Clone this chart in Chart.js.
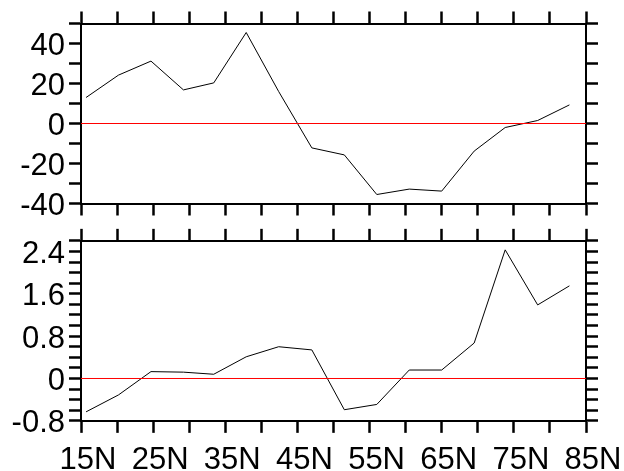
<!DOCTYPE html>
<html>
<head>
  <style>
    body { margin: 0; background: #fff; overflow: hidden; }
    .panel { position: absolute; left: 0; width: 624px; }
  </style>
  <script src="https://cdn.jsdelivr.net/npm/chart.js"></script>
</head>
<body>
  <div class="panel" style="top:-10px;height:247px"><canvas id="topChart" width="624" height="247"></canvas></div>
  <div class="panel" style="top:206px;height:265px"><canvas id="bottomChart" width="624" height="265"></canvas></div>

  <script>
    // latitude of each sample (degrees north)
    const lat = [15.7, 20.2, 24.7, 29.2, 33.4, 37.9, 42.4, 47.0, 51.5, 56.0, 60.5, 65.0, 69.5, 73.8, 78.3, 82.7];
    const topValues = [13, 24.2, 31.2, 16.8, 20.3, 45.5, 16, -12.2, -15.7, -35.5, -32.8, -33.8, -13.8, -2, 1.5, 9.3];
    const bottomValues = [-0.63, -0.31, 0.13, 0.12, 0.08, 0.41, 0.60, 0.54, -0.59, -0.49, 0.16, 0.16, 0.67, 2.43, 1.39, 1.75];

    const xTicks = [15, 20, 25, 30, 35, 40, 45, 50, 55, 60, 65, 70, 75, 80, 85];
    const xTickLabels = ['15N', '', '25N', '', '35N', '', '45N', '', '55N', '', '65N', '', '75N', '', '85N'];

    const topYTicks = [-40, -30, -20, -10, 0, 10, 20, 30, 40, 50];
    const topYLabels = ['-40', '', '-20', '', '0', '', '20', '', '40', ''];
    const bottomYTicks = [-0.8, -0.6, -0.4, -0.2, 0, 0.2, 0.4, 0.6, 0.8, 1.0, 1.2, 1.4, 1.6, 1.8, 2.0, 2.2, 2.4, 2.6];
    const bottomYLabels = ['-0.8', '', '', '', '0', '', '', '', '0.8', '', '', '', '1.6', '', '', '', '2.4', ''];

    // red reference line at zero
    const zeroX = [15, 85];
    const zeroY = [0, 0];

    const font = { family: 'Liberation Sans', size: 31 };

    function ticksFrom(list) {
      return function (scale) {
        scale.ticks = list.map(v => ({ value: v }));
      };
    }

    function axisGrid() {
      return { drawOnChartArea: false, tickLength: 12, tickWidth: 2.5, color: '#000' };
    }

    function makePanel(id, values, yTicks, yLabels, yMin, yMax, topH, bottomH, showX) {
      const ctx = document.getElementById(id).getContext('2d');
      return new Chart(ctx, {
        type: 'line',
        data: {
          datasets: [
            {
              data: zeroX.map((x, i) => ({ x: x, y: zeroY[i] })),
              borderColor: '#ff0000',
              borderWidth: 1,
              pointRadius: 0,
            },
            {
              data: lat.map((x, i) => ({ x: x, y: values[i] })),
              borderColor: '#000',
              borderWidth: 1,
              pointRadius: 0,
              tension: 0,
            },
          ],
        },
        options: {
          responsive: false,
          animation: false,
          devicePixelRatio: 1,
          layout: { padding: 0 },
          plugins: { legend: { display: false }, tooltip: { enabled: false } },
          scales: {
            x: {
              type: 'linear', position: 'bottom', min: 15, max: 85,
              afterBuildTicks: ticksFrom(xTicks),
              afterFit: s => { s.height = bottomH; },
              grid: axisGrid(),
              border: { color: '#000', width: 2 },
              ticks: {
                display: showX, autoSkip: false, maxRotation: 0, padding: 9, labelOffset: 7,
                color: '#000', font: font,
                callback: (v, i) => xTickLabels[i],
              },
            },
            xTop: {
              type: 'linear', position: 'top', min: 15, max: 85,
              afterBuildTicks: ticksFrom(xTicks),
              afterFit: s => { s.height = topH; },
              grid: axisGrid(),
              border: { color: '#000', width: 2 },
              ticks: { display: false },
            },
            y: {
              type: 'linear', position: 'left', min: yMin, max: yMax,
              afterBuildTicks: ticksFrom(yTicks),
              afterFit: s => { s.width = 81; },
              grid: axisGrid(),
              border: { color: '#000', width: 2 },
              ticks: {
                autoSkip: false, padding: 4, labelOffset: 3,
                color: '#000', font: font,
                callback: (v, i) => yLabels[i],
              },
            },
            yRight: {
              type: 'linear', position: 'right', min: yMin, max: yMax,
              afterBuildTicks: ticksFrom(yTicks),
              afterFit: s => { s.width = 38; },
              grid: axisGrid(),
              border: { color: '#000', width: 2 },
              ticks: { display: false },
            },
          },
        },
      });
    }

    makePanel('topChart', topValues, topYTicks, topYLabels, -40, 50, 33.5, 33.5, false);
    makePanel('bottomChart', bottomValues, bottomYTicks, bottomYLabels, -0.8, 2.6, 34.85, 50.15, true);
  </script>
</body>
</html>
